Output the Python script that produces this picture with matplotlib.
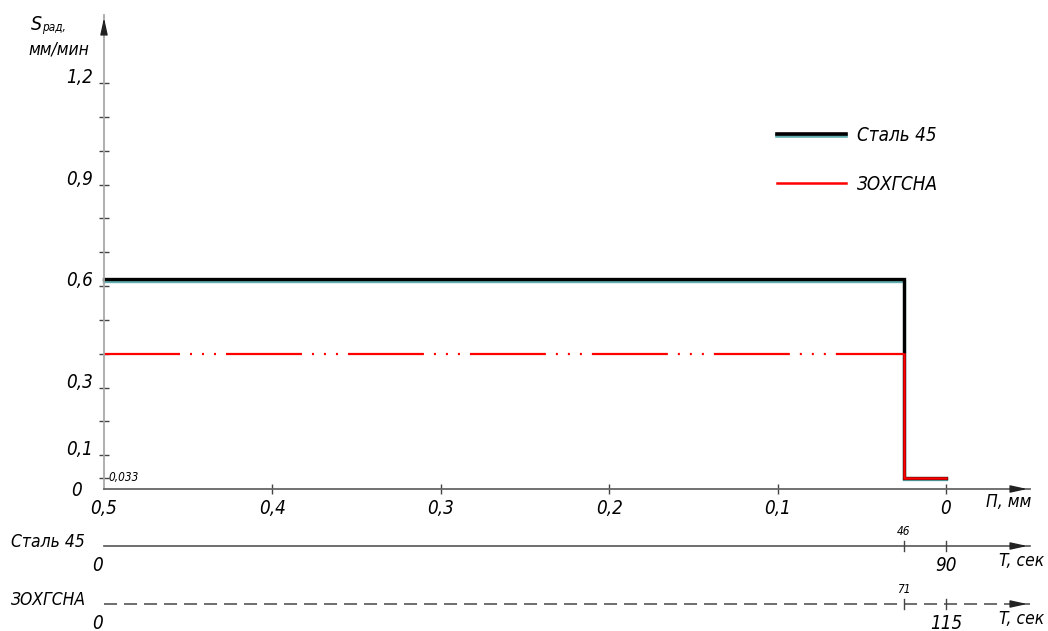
import numpy as np
import matplotlib
matplotlib.use("Agg")
import matplotlib.pyplot as plt
import matplotlib.transforms as mtrans
import matplotlib.patheffects as pe
from matplotlib.lines import Line2D

plt.rcParams['font.family'] = ['DejaVu Sans']
plt.rcParams['font.stretch'] = 'condensed'
plt.rcParams['font.style'] = 'italic'
plt.rcParams['lines.scale_dashes'] = False

# feed depth П, mm (axis goes from 0.5 down to 0)
depth_ticks = [0.5, 0.4, 0.3, 0.2, 0.1, 0.0]
depth_switch = 0.025          # where feed drops to finishing
s_finish = 0.033              # finishing radial feed, mm/min
s_steel45 = 0.62              # roughing feed, Сталь 45
s_30hgsna = 0.40              # roughing feed, 30ХГСНА

y_labels = [0, 0.1, 0.3, 0.6, 0.9, 1.2]
y_minor = [0.2, 0.4, 0.5, 0.7, 0.8, 1.0, 1.1]

# time scales, sec, tied to the depth positions
time_depth = [0.5, depth_switch, 0.0]
time_steel45 = [0, 46, 90]
time_30hgsna = [0, 71, 115]

W, H = 1048, 631
FS = 13.5
fig = plt.figure(figsize=(W / 100, H / 100), dpi=100)
ax = fig.add_axes([104 / W, (H - 489) / H, (1030 - 104) / W, (489 - 15) / H])
ax.set_xlim(0.5, 0.5 - (1030 - 104) / 1684)
ax.set_ylim(0, (489 - 15) / 338.3)

for s in ['top', 'right']:
    ax.spines[s].set_visible(False)
ax.spines['bottom'].set_color('#666666')
ax.spines['left'].set_color('#a8a8a8')
ax.spines['bottom'].set_linewidth(1.3)
ax.spines['left'].set_linewidth(1.3)

# axis arrows
arr = dict(arrowstyle='-|>,head_length=1.0,head_width=0.22', color='#222222', lw=1, mutation_scale=10)
ax.annotate('', xy=(1.0, 0), xytext=(0.98, 0), xycoords='axes fraction', arrowprops=arr, annotation_clip=False)
ax.annotate('', xy=(0, 1.0), xytext=(0, 0.97), xycoords='axes fraction', arrowprops=arr, annotation_clip=False)

# ticks
ax.set_xticks(depth_ticks)
ax.set_xticklabels([('%g' % v).replace('.', ',') for v in depth_ticks], fontsize=FS)
ax.tick_params(axis='x', direction='inout', length=7, width=1, color='#444444', pad=4)
ax.xaxis.get_ticklines()[0].set_visible(False)
ax.set_yticks(sorted([v for v in y_labels if v > 0] + y_minor + [s_finish]))
ax.set_yticklabels([])
ax.tick_params(axis='y', direction='inout', length=7, width=1, color='#444444')

ytr = ax.get_yaxis_transform()
for v in y_labels:
    if v == 0:
        ax.text(-0.024, v, '0', ha='right', va='baseline', fontsize=FS,
                transform=mtrans.offset_copy(ytr, fig=fig, x=0, y=-7, units='dots'))
    else:
        ax.text(-0.012, v, ('%g' % v).replace('.', ','), transform=ytr, ha='right',
                va='baseline', fontsize=FS)
ax.text(0.005, s_finish, '0,033', transform=ytr, ha='left', va='center', fontsize=8.5)

# curves
shadow = [pe.SimpleLineShadow(offset=(0, -1), shadow_color='#3a9a9a', alpha=0.8), pe.Normal()]
ax.plot([0.5, depth_switch, depth_switch, 0.0], [s_steel45, s_steel45, s_finish, s_finish],
        color='black', lw=2.4, solid_joinstyle='miter', path_effects=shadow, clip_on=False)
ax.plot([0.5, depth_switch], [s_30hgsna, s_30hgsna], color='red', lw=1.6,
        dashes=(54.7, 7.2, 1.44, 7.2, 1.44, 7.2, 1.44, 7.2), dash_capstyle='butt')
ax.plot([depth_switch, depth_switch, 0.0], [s_30hgsna, s_finish, s_finish], color='red',
        lw=1.8, solid_joinstyle='miter')

# legend
h1 = Line2D([], [], color='black', lw=2.6, path_effects=shadow)
h2 = Line2D([], [], color='red', lw=1.8)
ax.legend([h1, h2], ['Сталь 45', 'ЗОХГСНА'], loc='upper left', frameon=False,
          bbox_to_anchor=(777 / W, 1 - 126 / H), bbox_transform=fig.transFigure,
          fontsize=FS, handlelength=3.7, handletextpad=0.55, labelspacing=1.6,
          borderpad=0, borderaxespad=0)

# axis titles
fig.text(31 / W, 1 - 30 / H, 'S', fontsize=14, va='baseline')
fig.text(42 / W, 1 - 31 / H, 'рад,', fontsize=8.5, va='baseline')
fig.text(28 / W, 1 - 55 / H, 'мм/мин', fontsize=12.5, va='baseline')
fig.text(986 / W, 1 - 507 / H, 'П, мм', fontsize=12.5, va='baseline')

# time scales under the plot
blend = mtrans.blended_transform_factory(ax.transData, fig.transFigure)
x_end = ax.get_xlim()[1]
rows = [(546, time_steel45, 'Сталь 45', '-'), (604, time_30hgsna, 'ЗОХГСНА', (0, (9.4, 5.0)))]
for py, times, name, ls in rows:
    yf = 1 - py / H
    ax.plot([0.5, x_end], [yf, yf], transform=blend, color='#555555', lw=1.2, ls=ls, clip_on=False)
    ax.annotate('', xy=(x_end, yf), xytext=(x_end + 0.01, yf), xycoords=blend,
                arrowprops=arr, annotation_clip=False)
    for d, t in zip(time_depth, times):
        if d != 0.5:
            ax.plot([d, d], [yf - 5 / H, yf + 5 / H], transform=blend, color='#444444', lw=1,
                    clip_on=False)
        if d == depth_switch:
            ax.text(d, yf + 8 / H, str(t), transform=blend, ha='center', va='bottom', fontsize=8.5)
        elif d == 0.5:
            ax.text(d + 6 / 1684, yf - 10 / H, str(t), transform=blend, ha='center', va='top',
                    fontsize=FS)
        else:
            ax.text(d, yf - 10 / H, str(t), transform=blend, ha='center', va='top', fontsize=FS)
    fig.text(11 / W, yf + 4 / H, name, fontsize=12.5, va='center')
    fig.text(999 / W, yf - 15 / H, 'T, сек', fontsize=12.5, va='center')

fig.savefig('out.png', dpi=100)
